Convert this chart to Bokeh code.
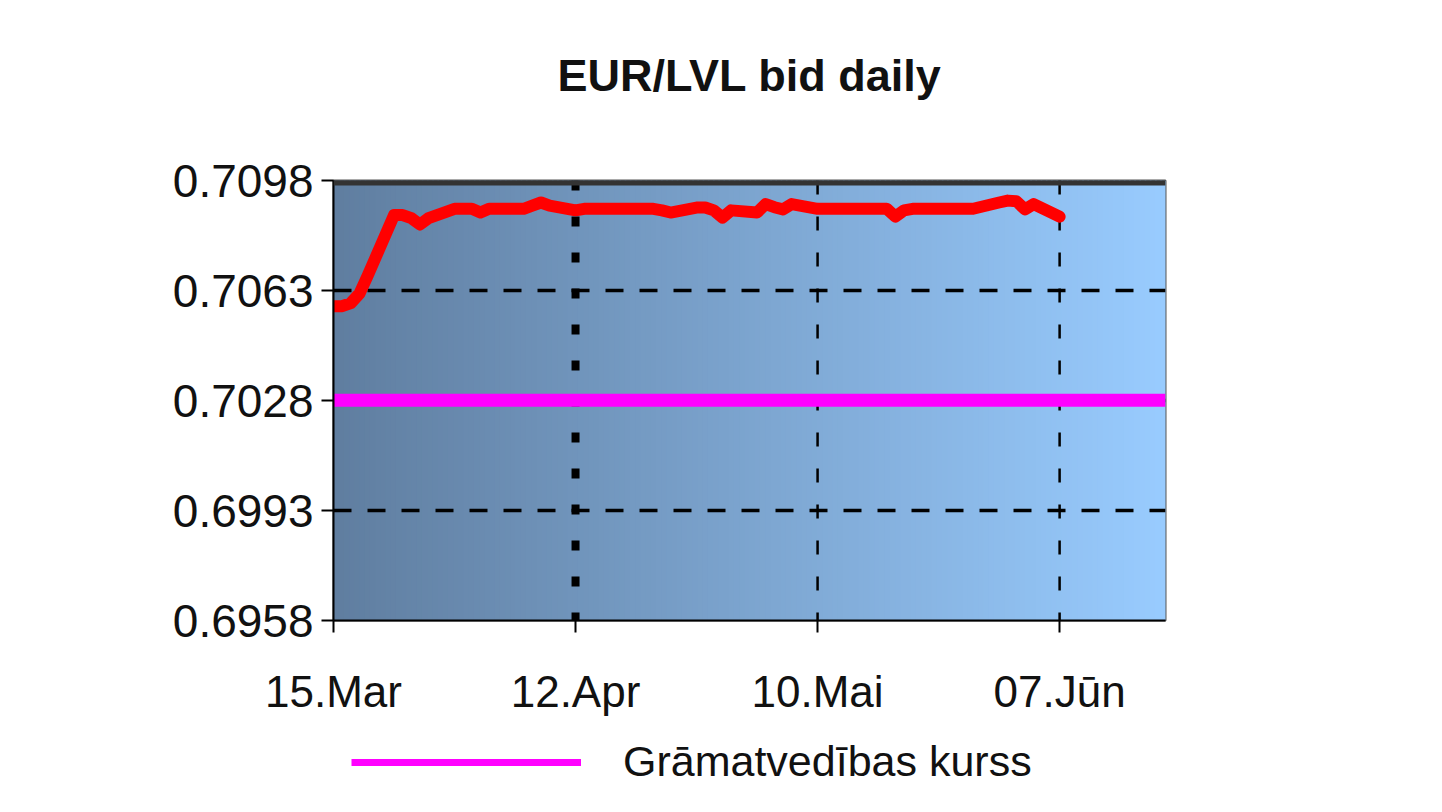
import numpy as np
import pandas as pd
from datetime import datetime
from bokeh.plotting import figure
from bokeh.layouts import column
from bokeh.models import (FixedTicker, NumeralTickFormatter, Span, Legend, LegendItem,
                          Range1d, ColumnDataSource, Title)
from bokeh.embed import file_html
from bokeh.resources import INLINE

# ---------------- data ----------------
title_text = "EUR/LVL bid daily"
dates = pd.date_range("2010-03-15", "2010-06-07", freq="B")
bid = [
    0.7058, 0.7058, 0.7059, 0.7062, 0.7068,        # Mar 15-19
    0.7087, 0.7087, 0.7086, 0.7084, 0.7086,        # Mar 22-26
    0.7089, 0.7089, 0.7089, 0.70878, 0.7089,       # Mar 29-Apr 2
    0.7089, 0.7089, 0.7090, 0.7091, 0.7090,        # Apr 5-9
    0.70885, 0.7089, 0.7089, 0.7089, 0.7089,       # Apr 12-16
    0.7089, 0.7089, 0.7089, 0.70885, 0.70878,      # Apr 19-23
    0.70894, 0.70894, 0.70885, 0.70862, 0.70885,   # Apr 26-30
    0.70878, 0.70905, 0.70895, 0.70888, 0.70905,   # May 3-7
    0.7089, 0.7089, 0.7089, 0.7089, 0.7089,        # May 10-14
    0.7089, 0.7089, 0.70865, 0.70885, 0.7089,      # May 17-21
    0.7089, 0.7089, 0.7089, 0.7089, 0.7089,        # May 24-28
    0.7091, 0.70916, 0.70914, 0.70888, 0.70905,    # May 31-Jun 4
    0.70865,                                       # Jun 7
]
official_rate = 0.702804
legend_label = "Grāmatvedības kurss"
y_ticks = [0.6958, 0.6993, 0.7028, 0.7063, 0.7098]
x_tick_dates = ["2010-03-15", "2010-04-12", "2010-05-10", "2010-06-07"]
x_tick_labels = ["15.Mar", "12.Apr", "10.Mai", "07.Jūn"]
x_start = datetime(2010, 3, 15)
x_end = datetime(2010, 6, 19, 6)

# ---------------- figure ----------------
FONT = "Liberation Sans"
W, H = 1420, 722
FL, FR, FT, FB = 333, 1165, 180, 620   # frame edges in canvas px
p = figure(width=W, height=H, x_axis_type="datetime", output_backend="svg",
           toolbar_location=None, tools="",
           x_range=Range1d(x_start, x_end), y_range=Range1d(y_ticks[0], y_ticks[-1]),
           min_border_left=FL, min_border_right=W - FR,
           min_border_top=FT, min_border_bottom=H - FB)
p.background_fill_color = "white"
p.border_fill_color = "white"
p.outline_line_color = "#555555"
p.outline_line_width = 2
p.xgrid.visible = False
p.ygrid.visible = False

p.title.text = title_text
p.title.text_font = FONT
p.title.text_font_size = "45px"
p.title.text_font_style = "bold"
p.title.text_color = "#111111"
p.title.align = "center"
p.title.standoff = 90
# blank spacer between title and plot area
p.add_layout(Title(text=" ", text_font_size="30px", standoff=0), "above")

# gradient background (style only)
def ms(d):
    return pd.Timestamp(d).value / 1e6

x0, x1 = ms(x_start), ms(x_end)
n = 160
edges = np.linspace(x0, x1, n + 1)
c0 = np.array([96, 126, 160])
c1 = np.array([153, 204, 255])
cols = []
for i in range(n):
    t = (i + 0.5) / n
    c = (c0 + (c1 - c0) * t).astype(int)
    cols.append("#%02x%02x%02x" % tuple(c))
step = (x1 - x0) / n
p.quad(left=edges[:-1], right=edges[:-1] + step * 1.3, bottom=y_ticks[0], top=y_ticks[-1],
       fill_color=cols, line_color=None, level="image")

# grid lines (at tick positions)
for yv in y_ticks[1:-1]:
    p.add_layout(Span(location=yv, dimension="width", line_color="black", line_width=3.5,
                      line_dash="18 16", level="underlay"))
p.add_layout(Span(location=y_ticks[-1], dimension="width", line_color="#333333",
                  line_width=10, level="overlay"))
tick_ms = [ms(d) for d in x_tick_dates]
for i, xv in enumerate(tick_ms[1:]):
    if i == 0:
        p.add_layout(Span(location=xv, dimension="height", line_color="black", line_width=8,
                          line_dash="10 26", level="underlay"))
    else:
        p.add_layout(Span(location=xv, dimension="height", line_color="black", line_width=2.5,
                          line_dash="14 22", level="underlay"))

# series
p.line(x=[x_start, x_end], y=[official_rate, official_rate], line_color="#ff00ff",
       line_width=13)
src = ColumnDataSource(dict(x=dates, y=bid))
p.line("x", "y", source=src, line_color="#ff0000", line_width=12,
       line_join="round", line_cap="round")

# axes
p.yaxis.ticker = FixedTicker(ticks=y_ticks)
p.yaxis.formatter = NumeralTickFormatter(format="0.0000")
p.xaxis.ticker = FixedTicker(ticks=tick_ms)
p.xaxis.major_label_overrides = {t: lab for t, lab in zip(tick_ms, x_tick_labels)}
for ax in (p.xaxis[0], p.yaxis[0]):
    ax.major_label_text_font = FONT
    ax.major_label_text_font_size = "44px"
    ax.major_label_text_color = "#111111"
    ax.axis_line_color = "black"
    ax.axis_line_width = 2
    ax.major_tick_line_color = "black"
    ax.major_tick_line_width = 2
    ax.major_tick_out = 12
    ax.major_tick_in = 0
    ax.minor_tick_out = 0
    ax.minor_tick_in = 0
p.yaxis.major_label_text_font_size = "46px"
p.yaxis.major_label_standoff = 8
p.xaxis.major_label_standoff = 34

# legend strip (separate figure below, frames aligned with the main plot)
LH = 70
pl = figure(width=W, height=LH, output_backend="svg", toolbar_location=None, tools="",
            x_range=p.x_range, y_range=Range1d(1, 2),
            x_axis_location=None, y_axis_location=None,
            min_border_left=FL, min_border_right=W - FR, min_border_top=0, min_border_bottom=0)
pl.outline_line_color = None
pl.background_fill_color = "white"
pl.xgrid.visible = False
pl.ygrid.visible = False
# the legend sample line (data lies outside this strip's y range, so only the legend shows)
leg_r = pl.line(x=[x_start, x_end], y=[official_rate, official_rate],
                line_color="#ff00ff", line_width=7)
legend = Legend(items=[LegendItem(label=legend_label, renderers=[leg_r])],
                location=(18, 6), orientation="horizontal",
                label_text_font=FONT, label_text_font_size="43px", label_text_color="#111111",
                glyph_width=230, glyph_height=44, label_standoff=42,
                border_line_color=None, background_fill_alpha=0,
                padding=4, margin=0)
pl.add_layout(legend)

open("out.html", "w").write(file_html(column(p, pl, spacing=0), INLINE))
